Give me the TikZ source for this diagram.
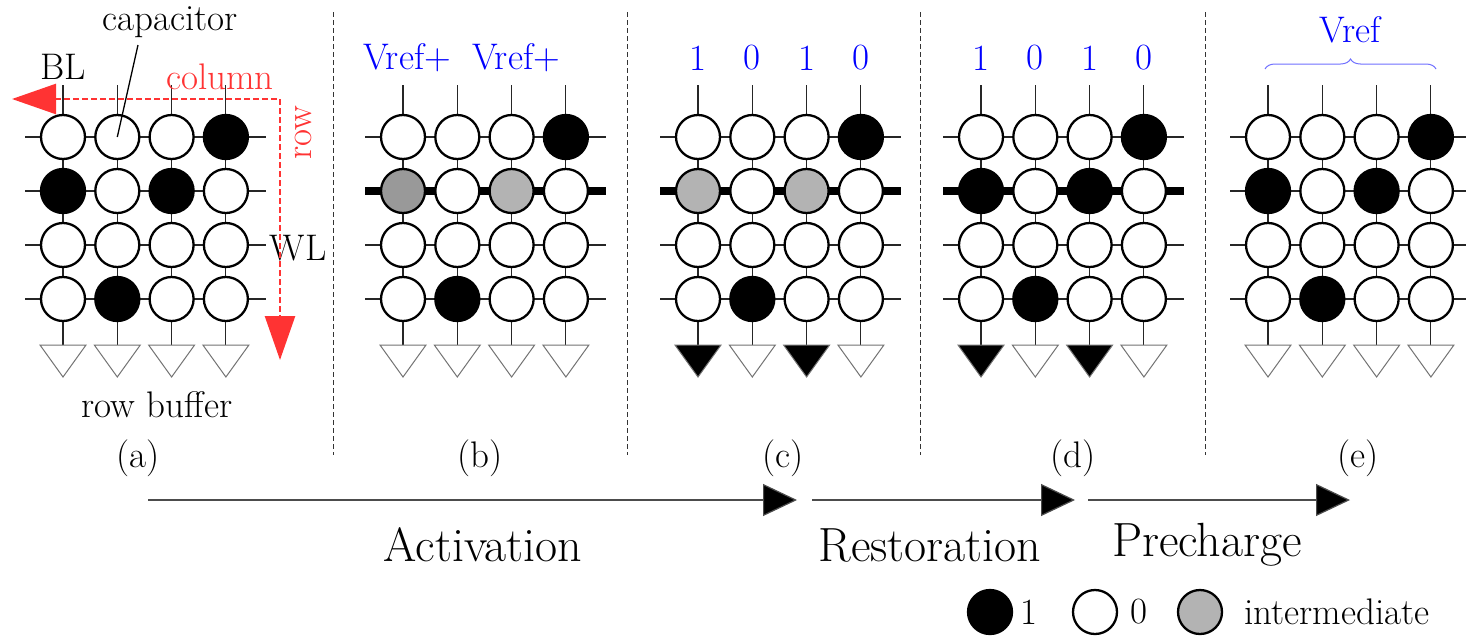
\documentclass[tikz,border=0pt]{standalone}
\usetikzlibrary{arrows.meta,decorations.pathreplacing}
\definecolor{cw}{HTML}{FFFFFF}
\definecolor{ck}{HTML}{000000}
\definecolor{cg}{HTML}{B3B3B3}
\definecolor{cd}{HTML}{999999}
\definecolor{myred}{HTML}{FF3333}
\definecolor{myblue}{HTML}{0000FF}
\definecolor{bracecol}{HTML}{7070FF}
\tikzset{
 wire/.style={draw=black!85, line width=1.1pt},
 cell/.style={circle, draw=black, line width=2.3pt, minimum size=44pt, inner sep=0pt},
 amp/.style={draw=black!55, line width=1pt, line join=miter},
 lbl/.style={font=\fontsize{37}{42}\selectfont, inner sep=0pt},
 big/.style={font=\fontsize{48}{54}\selectfont, inner sep=0pt},
 sep/.style={draw=black!80, line width=1pt, dash pattern=on 5pt off 3pt},
 phase/.style={draw=black!70, line width=1.2pt, -{Triangle[length=34pt,width=32pt,fill=black]}},
 redarr/.style={draw=myred, line width=2.5pt, dash pattern=on 6pt off 3pt,
   {Triangle[length=44pt,width=30pt]}-{Triangle[length=44pt,width=30pt]}},
}
\newcommand{\dpanel}[5]{%
 \foreach \c in {0,...,3}{
   \coordinate (#1-top-\c) at ({#2+\c*54.3},85);
   \coordinate (#1-bot-\c) at ({#2+\c*54.3},345);
   \draw[wire] (#1-top-\c) -- (#1-bot-\c);
 }
 \foreach \r/\lw/\wc in {0/1.1/black!85,1/#5,2/1.1/black!85,3/1.1/black!85}{
   \coordinate (#1-wl-\r) at ({#2-38},{137+\r*54});
   \coordinate (#1-wr-\r) at ({#2+3*54.3+40},{137+\r*54});
   \draw[wire, draw=\wc, line width=\lw pt] (#1-wl-\r) -- (#1-wr-\r);
 }
 \foreach \f [count=\i from 0] in {#3}{
   \pgfmathtruncatemacro{\rr}{int(\i/4)}
   \pgfmathtruncatemacro{\cc}{mod(\i,4)}
   \node[cell, fill=\f] (#1-\rr-\cc) at ({#2+\cc*54.3},{137+\rr*54}) {};
 }
 \foreach \f [count=\c from 0] in {#4}{
   \draw[amp, fill=\f] (#1-bot-\c) ++(-23,0) -- ++(46,0) -- ++(-23,32) -- cycle;
 }
}
\begin{document}
\begin{tikzpicture}[x=1pt,y=-1pt]
\useasboundingbox[fill=white] (0,0) rectangle (1466,640);

% separators
\foreach \x [count=\k] in {333,627,920,1205}{
  \coordinate (s\k t) at (\x,12);
  \coordinate (s\k b) at (\x,455);
  \draw[sep] (s\k t) -- (s\k b);
}

% panels
\dpanel{a}{63}{cw,cw,cw,ck, ck,cw,ck,cw, cw,cw,cw,cw, cw,ck,cw,cw}{cw,cw,cw,cw}{1.1/black!85}
\dpanel{b}{403}{cw,cw,cw,ck, cd,cw,cg,cw, cw,cw,cw,cw, cw,ck,cw,cw}{cw,cw,cw,cw}{8/black}
\dpanel{c}{698}{cw,cw,cw,ck, cg,cw,cg,cw, cw,cw,cw,cw, cw,ck,cw,cw}{ck,cw,ck,cw}{8/black}
\dpanel{d}{981}{cw,cw,cw,ck, ck,cw,ck,cw, cw,cw,cw,cw, cw,ck,cw,cw}{ck,cw,ck,cw}{8/black}
\dpanel{e}{1268}{cw,cw,cw,ck, ck,cw,ck,cw, cw,cw,cw,cw, cw,ck,cw,cw}{cw,cw,cw,cw}{1.1/black!85}

% panel (a) annotations
\node[lbl] (cap) at (170,22) {capacitor};
\coordinate (capstart) at (138,45);
\draw[line width=1.3pt] (capstart) -- (a-0-1.center);
\node[lbl] (bl) at (63,67) {BL};
\node[lbl, text=myred] (colw) at (220,77) {column};
\node[lbl, text=myred, rotate=90] (roww) at (303,133) {row};
\node[lbl] (wl) at (298,248) {WL};
\node[lbl] (rb) at (157,405) {row buffer};
\coordinate (rc) at (280,99);
\coordinate (rl) at (12,99);
\coordinate (rd) at (280,360);
\draw[redarr] (rl) -- (rc) -- (rd);

% panel (b)
\node[lbl, text=myblue] (vb1) at (407,58) {Vref+};
\node[lbl, text=myblue] (vb2) at (516,58) {Vref+};
% panel (c), (d)
\foreach \v [count=\k from 0] in {1,0,1,0}{
  \node[lbl, text=myblue] (vc\k) at ({698+\k*54.3},58) {\v};
  \node[lbl, text=myblue] (vd\k) at ({981+\k*54.3},58) {\v};
}
% panel (e)
\node[lbl, text=myblue] (ve) at (1350,30) {Vref};
\coordinate (brl) at (1265,69);
\coordinate (brr) at (1436,69);
\draw[bracecol, line width=1pt, decorate, decoration={brace, amplitude=10pt}] (brl) -- (brr);

% captions
\node[lbl] (la) at (138,458) {(a)};
\node[lbl] (lb) at (480,458) {(b)};
\node[lbl] (lc) at (783,458) {(c)};
\node[lbl] (ld) at (1073,458) {(d)};
\node[lbl] (le) at (1358,458) {(e)};

% phase arrows
\coordinate (p1s) at (148,500); \coordinate (p1e) at (797,500);
\coordinate (p2s) at (812,500); \coordinate (p2e) at (1075,500);
\coordinate (p3s) at (1088,500); \coordinate (p3e) at (1350,500);
\draw[phase] (p1s) -- (p1e);
\draw[phase] (p2s) -- (p2e);
\draw[phase] (p3s) -- (p3e);
\node[big] (act) at (483,545) {Activation};
\node[big] (res) at (930,545) {Restoration};
\node[big] (pre) at (1207,545) {Precharge};

% legend
\node[cell, fill=ck] (lg1) at (990,612) {};
\node[lbl] (lt1) at (1029,612) {1};
\node[cell, fill=cw] (lg0) at (1095,612) {};
\node[lbl] (lt0) at (1139,612) {0};
\node[cell, fill=cg] (lgi) at (1200,612) {};
\node[lbl] (lti) at (1337,612) {intermediate};
\end{tikzpicture}
\end{document}
